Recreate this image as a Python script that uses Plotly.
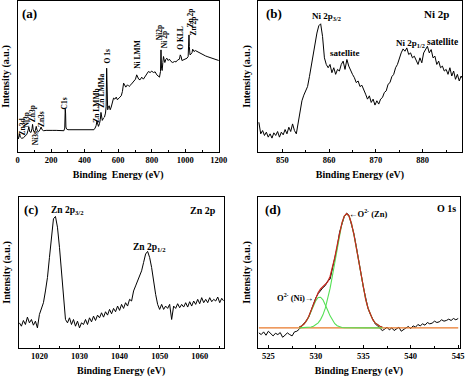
import plotly.graph_objects as go

W, H = 474, 379
FONT = "Liberation Serif"

# ---------------- (a) survey spectrum ----------------
a_energy = [0, 3, 8, 12, 16, 25, 35, 45, 55, 62, 67, 72, 80, 86, 89, 93, 100, 106, 111, 116,
            125, 133, 140, 146, 155, 170, 190, 210, 230, 250, 265, 276, 281, 284, 286, 288, 292,
            300, 320, 350, 380, 410, 440, 455, 462, 468, 473, 477, 482, 488, 493, 497, 500, 505,
            512, 518, 524, 528, 531, 534, 537, 541, 546, 552, 558, 565, 572, 580, 588, 595, 602,
            610, 618, 625, 632, 638, 645, 655, 665, 675, 685, 695, 703, 710, 716, 722, 730, 740,
            750, 760, 770, 780, 790, 800, 810, 820, 830, 840, 846, 852, 855, 858, 862, 866, 870,
            874, 878, 884, 890, 898, 905, 915, 925, 935, 945, 955, 965, 970, 975, 980, 990, 1000,
            1010, 1017, 1020, 1022, 1024, 1028, 1035, 1040, 1044, 1048, 1052, 1060, 1070, 1080,
            1090, 1100, 1110, 1120, 1130, 1140, 1150, 1160, 1170, 1180, 1190, 1200]
a_intensity = [60, 42, 48, 58, 48, 44, 46, 50, 56, 68, 78, 64, 62, 74, 86, 70, 62, 68, 80, 68,
               64, 70, 78, 70, 67, 68, 69, 68, 68, 67, 66, 67, 75, 132, 120, 78, 72,
               70, 70, 69, 68, 68, 68, 70, 75, 82, 96, 88, 80, 88, 100, 122, 105, 98,
               105, 108, 120, 140, 255, 200, 130, 138, 142, 130, 138, 155, 165, 162, 168, 160, 165,
               168, 172, 185, 210, 202, 198, 205, 200, 205, 210, 215, 222, 235, 230, 222, 220, 228,
               222, 230, 238, 245, 242, 246, 242, 244, 235, 232, 228, 245, 310, 255, 248, 272, 290,
               280, 272, 282, 285, 278, 282, 275, 272, 275, 274, 280, 282, 295, 290, 278, 280, 282,
               285, 290, 330, 355, 320, 295, 298, 302, 312, 310, 305, 308, 305, 302,
               300, 298, 295, 292, 290, 288, 286, 284, 282, 282, 280, 278]

# ---------------- (b) Ni 2p (0.4 eV grid starting at 845.0 eV) ----------------
b_start, b_step = 845.0, 0.4
b_intensity = [90, 55, 65, 50, 60, 45, 55, 42, 58, 50, 62, 45, 60, 52, 68, 55, 75, 62, 85, 65,
               55, 90, 120, 155, 172, 185, 198, 228, 260, 290, 335, 360, 382, 388, 350, 285, 265, 255,
               265, 240, 255, 235, 250, 245, 265, 275, 250, 280, 260, 245, 235, 225, 210, 215, 198,
               202, 185, 175, 160, 170, 150, 160, 142, 155, 145, 160, 165, 180, 185, 205, 210, 228,
               235, 255, 265, 285, 300, 312, 305, 315, 295, 300, 285, 290, 275, 265, 285, 270, 300,
               310, 320, 300, 310, 285, 290, 265, 275, 255, 260, 245, 250, 235, 255, 230, 245, 220,
               235, 215, 230, 220]
b_energy = [round(b_start + b_step * i, 2) for i in range(len(b_intensity))]

# ---------------- (c) Zn 2p (0.5 eV grid starting at 1015 eV) ----------------
c_start, c_step = 1015.0, 0.5
c_intensity = [75, 65, 82, 70, 92, 75, 85, 68, 80, 60, 100, 120, 135, 170, 210, 270, 340, 385, 392,
               360, 300, 220, 140, 85, 75, 90, 70, 85, 65, 80, 60, 75, 70, 85, 70, 90, 78, 95, 82,
               98, 90, 105, 92, 108, 98, 115, 102, 118, 108, 125, 112, 130, 118, 135, 125, 145, 140,
               170, 185, 200, 220, 230, 255, 280, 288, 270, 240, 195, 160, 130, 115, 130, 115, 125,
               118, 130, 85, 125, 118, 132, 120, 130, 122, 135, 122, 138, 125, 140, 130, 145, 132,
               150, 135, 145, 135, 150, 138, 145, 140, 152, 135, 148, 140]
c_energy = [round(c_start + c_step * i, 2) for i in range(len(c_intensity))]

# ---------------- (d) O 1s (0.25 eV grid starting at 524 eV) ----------------
d_start, d_step = 524.0, 0.25
d_intensity = [45, 40, 48, 38, 50, 42, 36, 44, 40, 46, 32, 38, 45, 40, 36, 48, 50, 56, 64, 72,
               82, 92, 112, 130, 150, 162, 172, 180, 186, 200, 205, 236, 262, 300, 345, 370, 392,
               402, 395, 368, 342, 305, 262, 222, 182, 150, 118, 100, 86, 72, 66, 58, 52, 56, 62,
               54, 60, 52, 58, 62, 50, 56, 60, 64, 58, 66, 62, 70, 66, 72, 68, 76, 72, 74, 80, 76,
               78, 84, 80, 82, 86, 82, 88, 84, 88]
d_energy = [round(d_start + d_step * i, 2) for i in range(len(d_intensity))]

# fitted components (0.25 eV grid from 528.25 eV)
fit_start, fit_step = 528.25, 0.25
fit_ni = [62.5, 65.5, 71.0, 79.9, 92.7, 108.9, 126.2, 141.2, 150.4, 151.3, 143.6, 129.4, 112.3,
          95.8, 82.2, 72.5, 66.3, 62.9, 61.2, 60.5, 60.2, 60.1, 60.0, 60.0, 60.0, 60.0, 60.0,
          60.0, 60.0, 60.0, 60.0, 60.0, 60.0, 60.0, 60.0, 60.0]
fit_zn = [60.0, 60.1, 60.3, 60.6, 61.3, 62.6, 64.8, 68.7, 74.9, 84.6, 98.8, 118.6, 144.8, 177.4,
          215.6, 257.6, 300.2, 339.7, 371.7, 392.7, 400.0, 392.7, 371.7, 339.7, 300.2, 257.6,
          215.6, 177.4, 144.8, 118.6, 98.8, 84.6, 74.9, 68.7, 64.8, 62.6]
fit_sum = [62.5, 65.6, 71.3, 80.5, 94.0, 111.5, 131.0, 149.9, 165.3, 175.9, 182.4, 188.0, 197.1,
           213.2, 237.8, 270.1, 306.5, 342.6, 372.9, 393.2, 400.2, 392.8, 371.7, 339.7, 300.2,
           257.6, 215.6, 177.4, 144.8, 118.6, 98.8, 84.6, 74.9, 68.7, 64.8, 62.6]
fit_energy = [round(fit_start + fit_step * i, 2) for i in range(len(fit_sum))]
d_background = 60.0

fig = go.Figure()
blk = dict(color="black", width=1)
fig.add_trace(go.Scatter(x=a_energy, y=a_intensity, mode="lines", line=blk, xaxis="x", yaxis="y"))
fig.add_trace(go.Scatter(x=b_energy, y=b_intensity, mode="lines", line=blk, xaxis="x2", yaxis="y2"))
fig.add_trace(go.Scatter(x=c_energy, y=c_intensity, mode="lines", line=blk, xaxis="x3", yaxis="y3"))
fig.add_trace(go.Scatter(x=d_energy, y=d_intensity, mode="lines", line=blk, xaxis="x4", yaxis="y4"))
fig.add_trace(go.Scatter(x=[d_energy[0], d_energy[-1]], y=[d_background, d_background], mode="lines",
                         line=dict(color="#e8782a", width=1.3), xaxis="x4", yaxis="y4"))
fig.add_trace(go.Scatter(x=fit_energy, y=fit_ni, mode="lines", line=dict(color="#55e055", width=1.1),
                         xaxis="x4", yaxis="y4"))
fig.add_trace(go.Scatter(x=fit_energy, y=fit_zn, mode="lines", line=dict(color="#55e055", width=1.1),
                         xaxis="x4", yaxis="y4"))
fig.add_trace(go.Scatter(x=fit_energy, y=fit_sum, mode="lines", line=dict(color="#c8281e", width=1.2),
                         xaxis="x4", yaxis="y4"))


def xax(dom, rng, dtick, minor, anchor, title):
    return dict(domain=dom, range=rng, dtick=dtick, tick0=0, anchor=anchor,
                showline=True, linecolor="black", linewidth=1, mirror=True,
                ticks="inside", ticklen=3, tickcolor="black", showgrid=False, zeroline=False,
                minor=dict(dtick=minor, ticks="inside", ticklen=2, tickcolor="black", showgrid=False),
                tickfont=dict(family=FONT, size=8.5, color="black", weight="bold"),
                title=dict(text=title, standoff=6,
                           font=dict(family=FONT, size=10, color="black", weight="bold")))


def yax(dom, rng, anchor, standoff):
    return dict(domain=dom, range=rng, anchor=anchor, showline=True, linecolor="black",
                linewidth=1, mirror=True, ticks="", showticklabels=False, showgrid=False,
                zeroline=False,
                title=dict(text="Intensity (a.u.)", standoff=standoff,
                           font=dict(family=FONT, size=10, color="black", weight="bold")))


top = [1 - 152 / H, 1 - 1 / H]
bot = [1 - 348 / H, 1 - 197 / H]
fig.update_layout(
    width=W, height=H, margin=dict(l=0, r=0, t=0, b=0), autosize=False,
    paper_bgcolor="white", plot_bgcolor="white", showlegend=False,
    xaxis=xax([16 / W, 222 / W], [0, 1200], 200, 100, "y", "Binding\u00a0 Energy (eV)"),
    yaxis=yax(top, [3, 457], "x", 5),
    xaxis2=xax([262 / W, 471 / W], [844.8, 888.4], 10, 5, "y2", "Binding Energy (eV)"),
    yaxis2=yax(top, [0, 457], "x2", 4),
    xaxis3=xax([17 / W, 227 / W], [1014.8, 1066], 10, 5, "y3", "Binding Energy (eV)"),
    yaxis3=yax(bot, [0, 450], "x3", 5),
    xaxis4=xax([262 / W, 469 / W], [523.9, 545.2], 5, 2.5, "y4", "Binding Energy (eV)"),
    yaxis4=yax(bot, [0, 450], "x4", 4),
)


def note(text, x, y, size=9, angle=0):
    fig.add_annotation(text=text, x=x / W, y=1 - y / H, xref="paper", yref="paper",
                       showarrow=False, textangle=angle, xanchor="center", yanchor="middle",
                       font=dict(family=FONT, size=size, color="black", weight="bold"))


# panel letters
note("(a)", 28, 13, 13)
note("(b)", 278, 13, 13)
note("(c)", 30, 209, 13)
note("(d)", 277, 209, 13)

# panel (a) peak labels (rotated)
for txt, x, y in [("Zn3d", 21, 127), ("Ni3p", 25, 120), ("Zn3p", 31, 114), ("Ni3s", 34, 138),
                  ("Zn3s", 40, 119), ("C1s", 65, 103), ("Zn LMMb", 97, 106), ("Zn LMMa", 102, 91),
                  ("O 1s", 107, 57), ("Ni LMM", 138, 54), ("Ni2p", 161, 33), ("Ni 2p", 166, 40),
                  ("O KLL", 183, 38), ("Zn 2p", 192, 18), ("Zn 2p", 197, 26)]:
    note(txt, x, y, 7.5, -90)

# panel (b)
note("Ni 2p<sub>3/2</sub>", 332, 16, 9)
note("satellite", 351, 53, 9)
note("Ni 2p<sub>1/2</sub>", 418, 43, 9)
note("satellite", 451, 42, 9.5)
note("Ni 2p", 445, 14, 11)

# panel (c)
note("Zn 2p<sub>3/2</sub>", 67, 210, 9.5)
note("Zn 2p<sub>1/2</sub>", 151, 247, 9.5)
note("Zn 2p", 206, 210, 10)

# panel (d)
note("\u2190O<sup>2-</sup> (Zn)", 375, 213, 8.5)
note("O<sup>2-</sup> (Ni)\u2192", 300, 297, 8.5)
note("O 1s", 455, 208, 10)

fig.write_html("out.html", config={"displayModeBar": False},
               post_script="document.body.style.margin='0px';")
